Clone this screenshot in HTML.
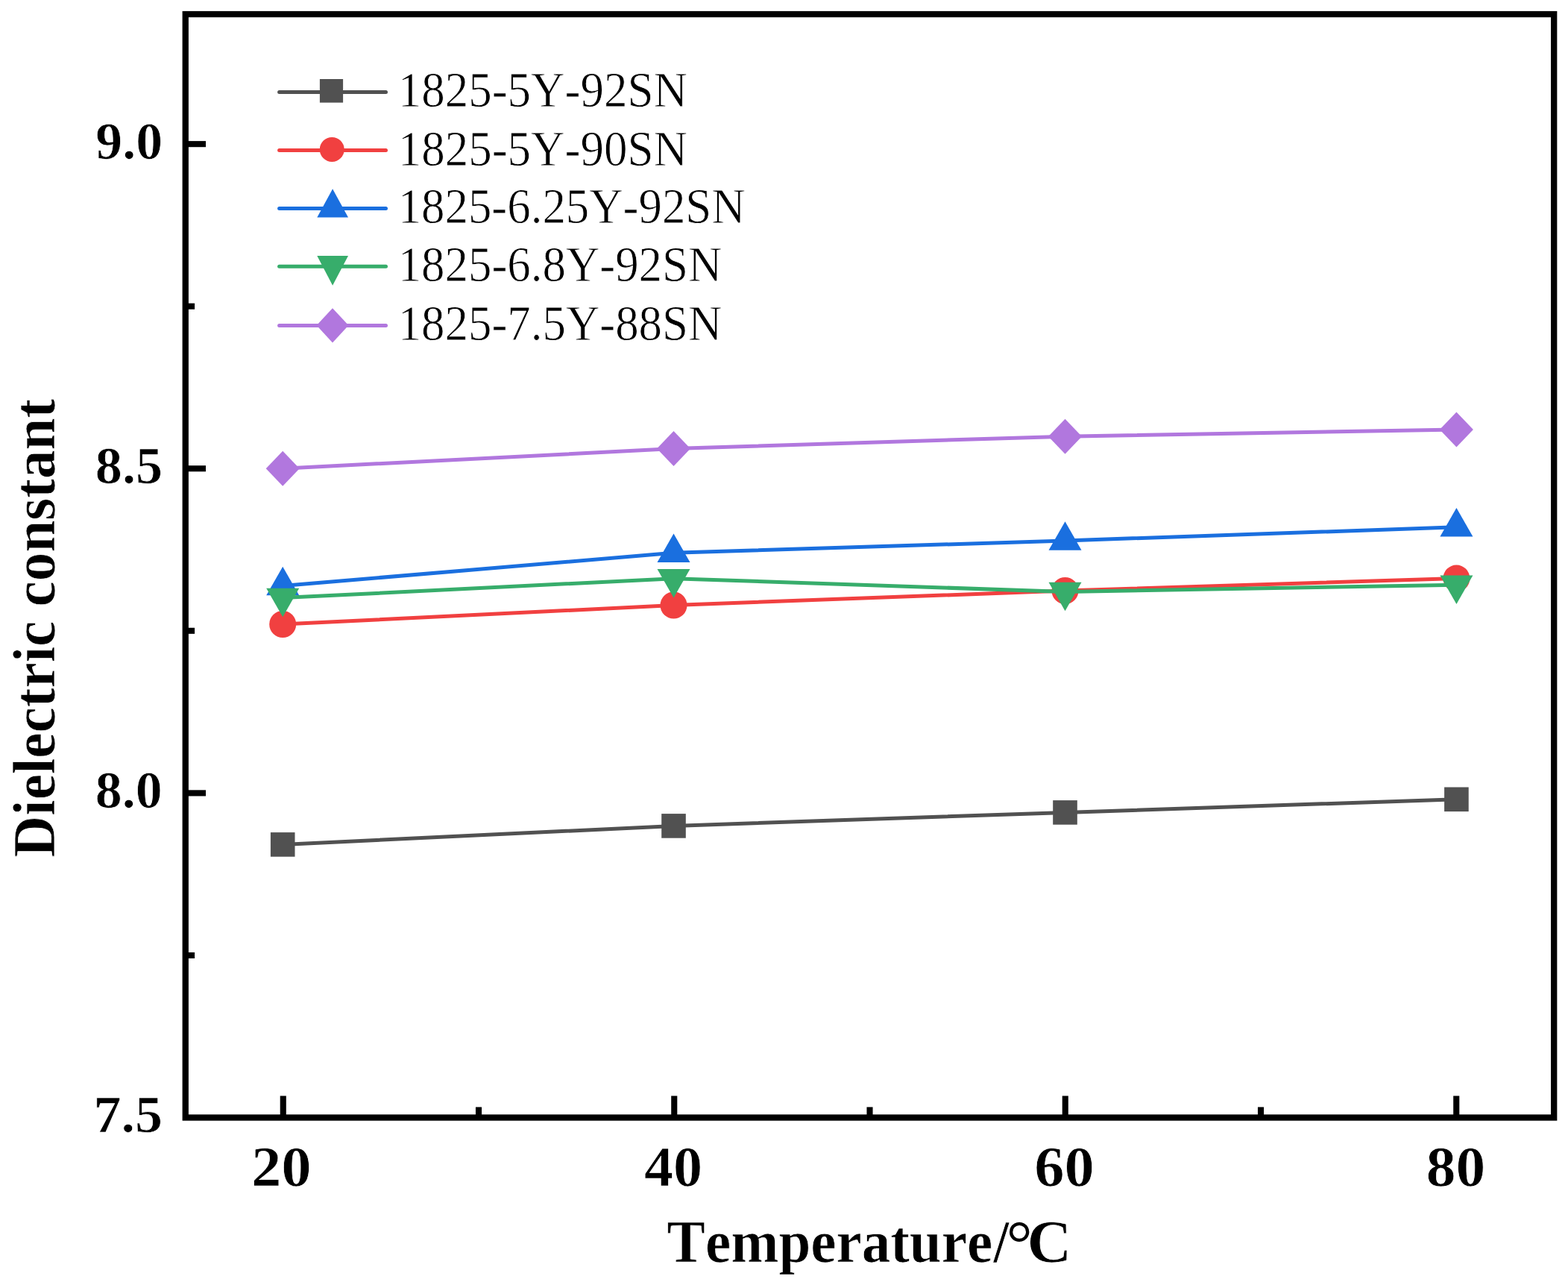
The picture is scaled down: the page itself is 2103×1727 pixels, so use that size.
<!DOCTYPE html>
<html>
<head>
<meta charset="utf-8">
<style>
html,body{margin:0;padding:0;background:#fff;}
body{width:2103px;height:1727px;overflow:hidden;}
svg{display:block;}
.t{font-family:"Liberation Serif","Times New Roman",serif;fill:#000;font-kerning:none;font-feature-settings:"kern" 0;}
.b{font-weight:bold;stroke:#fff;stroke-width:0.7px;}
</style>
</head>
<body>
<svg width="2103" height="1727" viewBox="0 0 2103 1727">
<rect x="0" y="0" width="2103" height="1727" fill="#fff"/>

<polyline fill="none" stroke="#515151" stroke-width="5" stroke-linejoin="round" points="379.2,1132.4 903.5,1107.4 1428.5,1089.4 1953.4,1071.8"/>
<g fill="#515151"><rect x="362.9" y="1116.1" width="32.6" height="32.6"/><rect x="887.2" y="1091.1" width="32.6" height="32.6"/><rect x="1412.2" y="1073.1" width="32.6" height="32.6"/><rect x="1937.1" y="1055.5" width="32.6" height="32.6"/></g>
<polyline fill="none" stroke="#F14040" stroke-width="5" stroke-linejoin="round" points="379.2,837 903.5,811.5 1428.5,792 1953.4,775.6"/>
<g fill="#F14040"><circle cx="379.2" cy="837" r="18"/><circle cx="903.5" cy="811.5" r="18"/><circle cx="1428.5" cy="792" r="18"/><circle cx="1953.4" cy="775.6" r="18"/></g>
<polyline fill="none" stroke="#1A6FDF" stroke-width="5" stroke-linejoin="round" points="379.2,785.5 903.5,741.2 1428.5,725 1953.4,706.8"/>
<g fill="#1A6FDF"><polygon points="379.2,759.8 401.2,798.3 357.2,798.3"/><polygon points="903.5,715.5 925.5,754.0 881.5,754.0"/><polygon points="1428.5,699.3 1450.5,737.8 1406.5,737.8"/><polygon points="1953.4,681.1 1975.4,719.6 1931.4,719.6"/></g>
<polyline fill="none" stroke="#37AD6B" stroke-width="5" stroke-linejoin="round" points="379.2,801.6 903.5,775.7 1428.5,793.5 1953.4,784.2"/>
<g fill="#37AD6B"><polygon points="379.2,827.3 401.2,788.8 357.2,788.8"/><polygon points="903.5,801.4 925.5,762.9 881.5,762.9"/><polygon points="1428.5,819.2 1450.5,780.7 1406.5,780.7"/><polygon points="1953.4,809.9 1975.4,771.4 1931.4,771.4"/></g>
<polyline fill="none" stroke="#B177DE" stroke-width="5" stroke-linejoin="round" points="379.2,628.3 903.5,601.5 1428.5,585.2 1953.4,576"/>
<g fill="#B177DE"><polygon points="379.2,604.8 401.7,628.3 379.2,651.8 356.7,628.3"/><polygon points="903.5,578.0 926.0,601.5 903.5,625.0 881.0,601.5"/><polygon points="1428.5,561.7 1451.0,585.2 1428.5,608.7 1406.0,585.2"/><polygon points="1953.4,552.5 1975.9,576.0 1953.4,599.5 1930.9,576.0"/></g>
<g fill="none" stroke-width="5">
  <line x1="374.6" y1="123.4" x2="517.5" y2="123.4" stroke="#515151" stroke-linecap="round"/>
  <line x1="374.6" y1="201.4" x2="517.5" y2="201.4" stroke="#F14040" stroke-linecap="round"/>
  <line x1="374.6" y1="279.4" x2="517.5" y2="279.4" stroke="#1A6FDF" stroke-linecap="round"/>
  <line x1="374.6" y1="357.3" x2="517.5" y2="357.3" stroke="#37AD6B" stroke-linecap="round"/>
  <line x1="374.6" y1="436.6" x2="517.5" y2="436.6" stroke="#B177DE" stroke-linecap="round"/>
</g>
<rect x="428.9" y="106" width="31.2" height="31.6" fill="#515151"/>
<circle cx="445.25" cy="200.4" r="16.5" fill="#F14040"/>
<polygon fill="#1A6FDF" points="446.1,253.3 467,291.6 425.3,291.6"/>
<polygon fill="#37AD6B" points="446.1,382.7 467,343.1 425.3,343.1"/>
<polygon fill="#B177DE" points="446,413.2 467.5,436.3 446,459.4 424.6,436.3"/>
<g class="t" font-size="67" stroke="#fff" stroke-width="0.8">
  <text x="534.3" y="143.1" transform="matrix(0.94021,0,0,1,31.329,0)">1825-5Y-92SN</text>
  <text x="534.3" y="221.6" transform="matrix(0.94021,0,0,1,31.329,0)">1825-5Y-90SN</text>
  <text x="534.3" y="299.3" transform="matrix(0.93788,0,0,1,32.582,0)">1825-6.25Y-92SN</text>
  <text x="534.3" y="377.0" transform="matrix(0.93822,0,0,1,32.401,0)">1825-6.8Y-92SN</text>
  <text x="534.3" y="456.0" transform="matrix(0.93822,0,0,1,32.401,0)">1825-7.5Y-88SN</text>
</g>
<rect x="248.75" y="19.05" width="1835.45" height="1479.45" fill="none" stroke="#000" stroke-width="8.3"/>
<g stroke="#000" stroke-width="8.1">
  <line x1="248.75" y1="193.15" x2="276" y2="193.15"/>
  <line x1="248.75" y1="628.25" x2="276" y2="628.25"/>
  <line x1="248.75" y1="1063.4" x2="276" y2="1063.4"/>
  <line x1="248.75" y1="410.7" x2="261.1" y2="410.7"/>
  <line x1="248.75" y1="845.8" x2="261.1" y2="845.8"/>
  <line x1="248.75" y1="1281" x2="261.1" y2="1281"/>
  <line x1="379.75" y1="1498.5" x2="379.75" y2="1469.4"/>
  <line x1="904.25" y1="1498.5" x2="904.25" y2="1469.4"/>
  <line x1="1428.75" y1="1498.5" x2="1428.75" y2="1469.4"/>
  <line x1="1953.25" y1="1498.5" x2="1953.25" y2="1469.4"/>
  <line x1="642" y1="1498.5" x2="642" y2="1484.4"/>
  <line x1="1166.5" y1="1498.5" x2="1166.5" y2="1484.4"/>
  <line x1="1691" y1="1498.5" x2="1691" y2="1484.4"/>
</g>
<g class="t b" font-size="70" text-anchor="end">
  <text x="217.6" y="213" transform="matrix(1.02676,0,0,1,-5.344,0)">9.0</text>
  <text x="217.6" y="648.1" transform="matrix(1.03164,0,0,1,-6.389,0)">8.5</text>
  <text x="217.6" y="1083.3" transform="matrix(1.02674,0,0,1,-5.743,0)">8.0</text>
  <text x="217.6" y="1518.4" transform="matrix(1.05959,0,0,1,-12.398,0)">7.5</text>
</g>
<g class="t b" font-size="76" text-anchor="middle">
  <text x="377.6" y="1590" transform="matrix(1.06316,0,0,1,-24.076,0)">20</text>
  <text x="902.1" y="1590" transform="matrix(1.02812,0,0,1,-24.336,0)">40</text>
  <text x="1426.6" y="1590" transform="matrix(1.05966,0,0,1,-84.201,0)">60</text>
  <text x="1951.1" y="1590" transform="matrix(1.04604,0,0,1,-88.415,0)">80</text>
</g>
<g transform="matrix(1,0,0,0.96394,0,31.161)"><text class="t b" font-size="80" text-anchor="middle" transform="translate(73.2,841.35) rotate(-90)">Dielectric constant</text></g>
<text class="t b" font-size="80" x="896" y="1692.2" transform="matrix(0.96347,0,0,1,31.300,0)">Temperature</text>
<text class="t b" font-size="80" x="0" y="1692.2" transform="matrix(0.9328,0,0,1,1332.55,0)">/</text>
<text class="t" font-size="87.2" x="1349.73" y="1696.3">°</text>
<text class="t b" font-size="80" x="0" y="1692.2" transform="matrix(1.0356,0,0,1,1377.46,0)">C</text>
</svg>
</body>
</html>
